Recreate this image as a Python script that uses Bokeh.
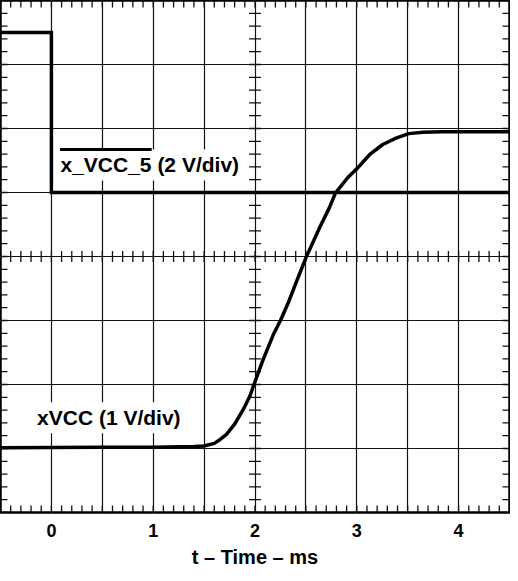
import numpy as np
from bokeh.plotting import figure
from bokeh.models import Range1d, FixedTicker, Grid, LinearAxis, Label
from bokeh.embed import file_html
from bokeh.resources import INLINE

# ---- data (time in ms, volts) ----
vcc5_t = [-0.5, 0.0, 0.0, 4.5]
vcc5_v = [5.0, 5.0, 0.0, 0.0]          # x_VCC_5, 2 V/div, zero at division 5
vcc5_scale = 2.0
vcc5_offset = 5.0

xvcc_t = [-0.5, 0.0, 0.5, 1.0, 1.4, 1.5, 1.6, 1.64, 1.72, 1.80, 1.885, 1.95, 1.99,
          2.08, 2.18, 2.25, 2.33, 2.42, 2.5, 2.64, 2.73, 2.79, 2.91, 3.0, 3.125,
          3.255, 3.385, 3.51, 3.65, 3.84, 4.0, 4.5]
xvcc_v = [0.01, 0.015, 0.02, 0.02, 0.03, 0.04, 0.08, 0.12, 0.22, 0.38, 0.61, 0.82, 1.0,
          1.39, 1.78, 2.0, 2.29, 2.66, 2.98, 3.47, 3.76, 3.99, 4.23, 4.37, 4.59,
          4.75, 4.85, 4.92, 4.94, 4.95, 4.95, 4.95]   # xVCC, 1 V/div, zero at division 1
xvcc_scale = 1.0
xvcc_offset = 1.0

x_tick_labels = [0, 1, 2, 3, 4]
x_label = "t \u2013 Time \u2013 ms"
label_vcc5 = "x_VCC_5 (2 V/div)"
label_xvcc = "xVCC (1 V/div)"

# ---- screen layout ----
T0, T1 = -0.5, 4.5
D0, D1 = 0.0, 8.0
FONT = "Liberation Sans"
INK = "#111111"

p = figure(width=510, height=573, x_range=Range1d(T0, T1), y_range=Range1d(D0, D1),
           output_backend="svg", toolbar_location=None,
           x_axis_location=None, y_axis_location=None,
           min_border_left=0, min_border_right=1, min_border_top=0, min_border_bottom=61)
p.outline_line_color = "black"
p.outline_line_width = 2.5
p.background_fill_color = "white"
p.border_fill_color = "white"

# grid every half ms / every division
gx = Grid(dimension=0, ticker=FixedTicker(ticks=list(np.arange(T0 + 0.5, T1 - 0.25, 0.5))),
          grid_line_color=INK, grid_line_width=1.2, level="underlay")
gy = Grid(dimension=1, ticker=FixedTicker(ticks=list(np.arange(D0 + 1, D1 - 0.5, 1.0))),
          grid_line_color=INK, grid_line_width=1.2, level="underlay")
p.add_layout(gx)
p.add_layout(gy)

# bottom axis with labels only
ax = LinearAxis(ticker=FixedTicker(ticks=x_tick_labels))
ax.axis_line_color = None
ax.major_tick_in = 0
ax.major_tick_out = 0
ax.minor_tick_in = 0
ax.minor_tick_out = 0
ax.major_label_text_font = FONT
ax.major_label_text_font_style = "bold"
ax.major_label_text_font_size = "18px"
ax.major_label_text_color = "black"
ax.major_label_standoff = 11
ax.axis_label = x_label
ax.axis_label_text_font = FONT
ax.axis_label_text_font_style = "bold"
ax.axis_label_text_font_size = "20px"
ax.axis_label_text_color = "black"
ax.axis_label_standoff = 6
p.add_layout(ax, "below")

# minor ticks on borders and centre lines
mt = np.round(np.arange(T0, T1 + 1e-9, 0.1), 3)
md = np.round(np.arange(D0, D1 + 1e-9, 0.2), 3)
TL = 7
p.ray(x=mt, y=[D1] * len(mt), length=TL, length_units="screen", angle=-np.pi / 2,
      line_color=INK, line_width=1.3)
p.ray(x=mt, y=[D0] * len(mt), length=TL, length_units="screen", angle=np.pi / 2,
      line_color=INK, line_width=1.3)
p.ray(x=[T0] * len(md), y=md, length=TL, length_units="screen", angle=0,
      line_color=INK, line_width=1.3)
p.ray(x=[T1] * len(md), y=md, length=TL, length_units="screen", angle=np.pi,
      line_color=INK, line_width=1.3)
xc, yc = (T0 + T1) / 2, (D0 + D1) / 2
p.scatter(x=mt, y=[yc] * len(mt), marker="dash", size=11, angle=np.pi / 2,
          line_color=INK, line_width=1.3)
p.scatter(x=[xc] * len(md), y=md, marker="dash", size=12, angle=0,
          line_color=INK, line_width=1.3)

# signals
y5 = [v / vcc5_scale + vcc5_offset for v in vcc5_v]
yx = [v / xvcc_scale + xvcc_offset for v in xvcc_v]
p.line(vcc5_t, y5, line_color="black", line_width=3.5, line_join="miter")
p.line(xvcc_t, yx, line_color="black", line_width=3.5, line_join="round")

# labels with white background
lab1 = Label(x=0.05, y=5.43, text=label_vcc5, text_font=FONT, text_font_style="bold",
             text_font_size="21px", text_color="black", text_baseline="middle",
             text_align="left", background_fill_color="white", padding=4)
lab2 = Label(x=-0.18, y=1.48, text=label_xvcc, text_font=FONT, text_font_style="bold",
             text_font_size="21px", text_color="black", text_baseline="middle",
             text_align="left", background_fill_color="white", padding=4)
p.add_layout(lab1)
p.add_layout(lab2)
# overline over "x_VCC_5"
ol = p.segment(x0=[0.085], x1=[0.985], y0=[5.67], y1=[5.67], line_color="black", line_width=3)
ol.level = "overlay"

open("out.html", "w").write(file_html(p, INLINE))
